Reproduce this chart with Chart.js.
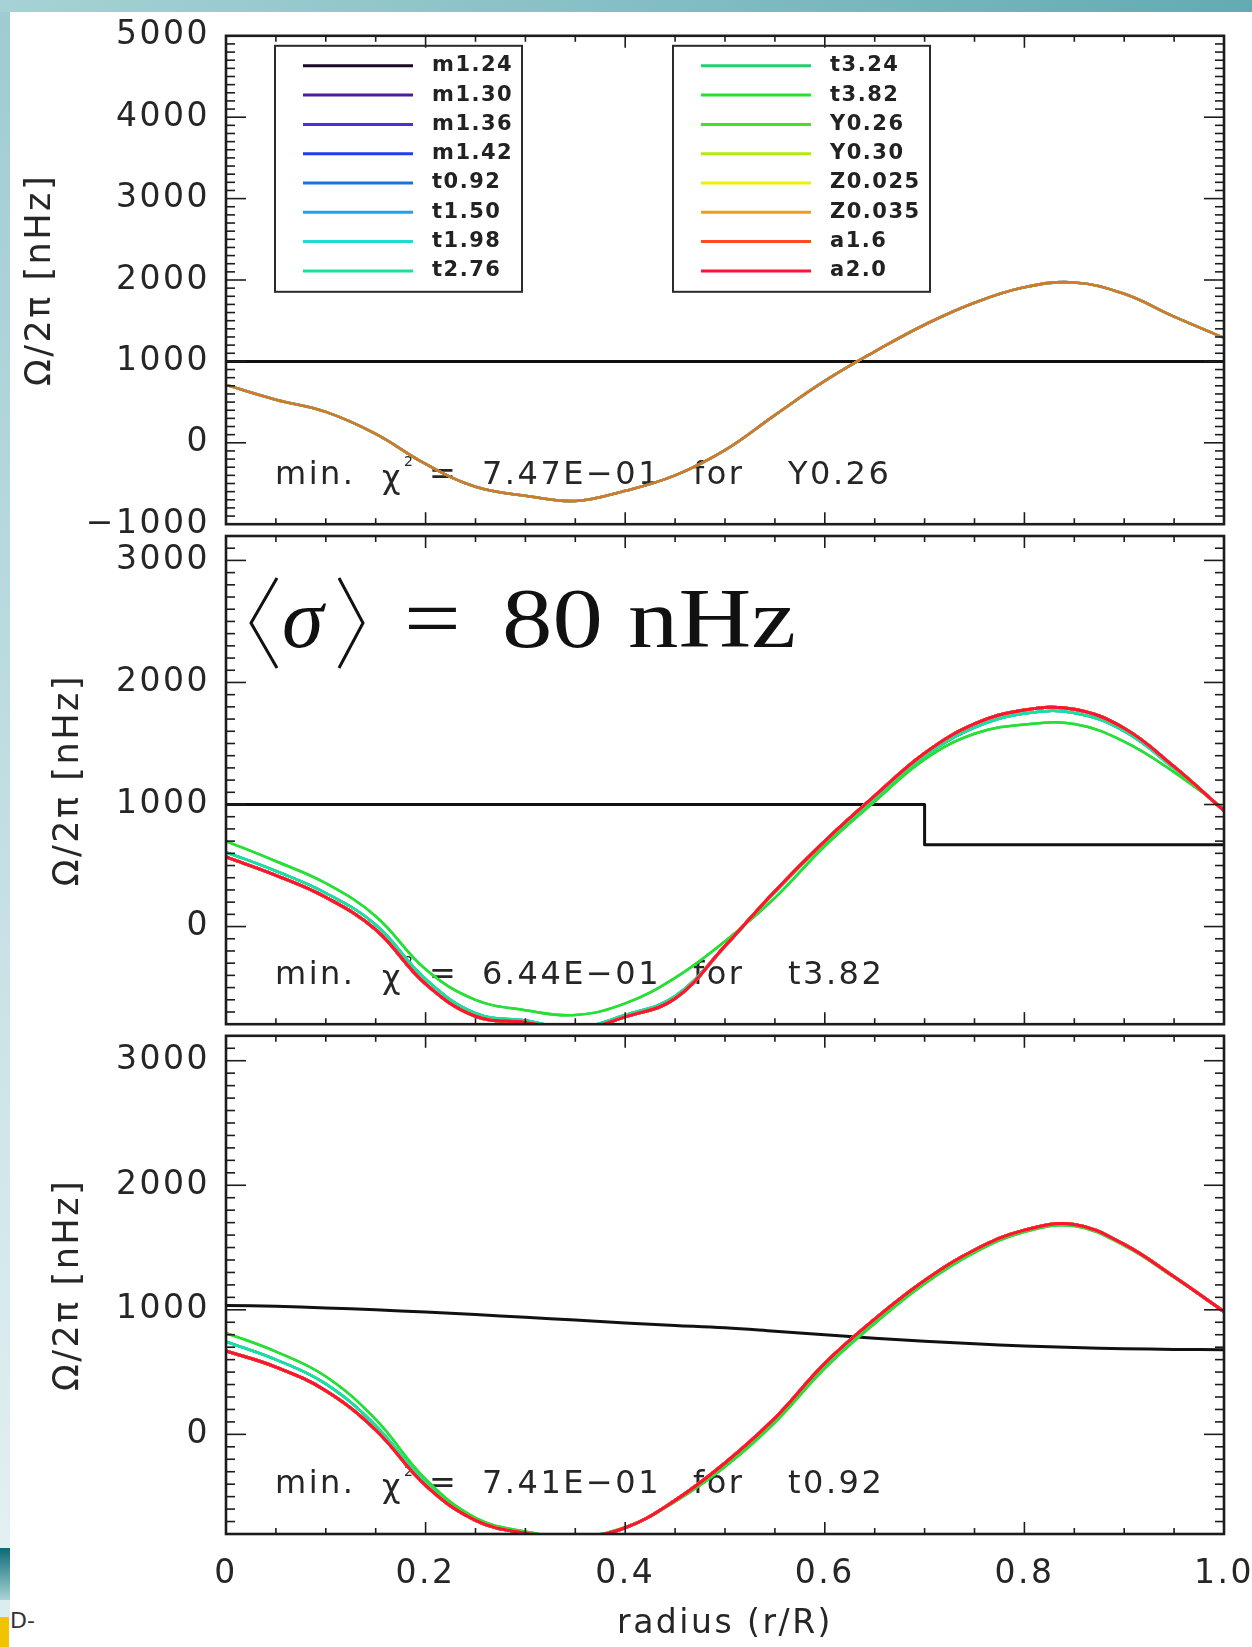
<!DOCTYPE html>
<html>
<head>
<meta charset="utf-8">
<script src="https://cdn.jsdelivr.net/npm/chart.js@4.4.1/dist/chart.umd.min.js"></script>
<style>
  html, body { margin: 0; padding: 0; background: #fff; }
  body { width: 1252px; height: 1647px; position: relative; overflow: hidden; }
  .strip-top { position: absolute; left: 0; top: 0; width: 1252px; height: 12px; background: linear-gradient(to right, #a6d2d5, #63abb3); }
  .strip-left { position: absolute; left: 0; top: 12px; width: 10px; height: 1536px; background: linear-gradient(#9fcbd3, #e2f0f2); }
  .tab-teal { position: absolute; left: 0; top: 1548px; width: 10px; height: 52px; background: linear-gradient(#0b6a74, #a9d3d8); }
  .tab-light { position: absolute; left: 0; top: 1600px; width: 10px; height: 17px; background: #dcedf0; }
  .tab-yellow { position: absolute; left: 0; top: 1617px; width: 9px; height: 30px; background: #f2c400; }
  .tab-text { position: absolute; left: 10px; top: 1608px; font: 22px "DejaVu Sans"; color: #333; }
  canvas { position: absolute; left: 0; }
</style>
</head>
<body>
<div class="strip-top"></div>
<div class="strip-left"></div>
<div class="tab-teal"></div>
<div class="tab-light"></div>
<div class="tab-yellow"></div>
<div class="tab-text">D-</div>
<canvas id="c1" width="1252" height="560" style="top:0"></canvas>
<canvas id="c2" width="1252" height="560" style="top:500px"></canvas>
<canvas id="c3" width="1252" height="647" style="top:1000px"></canvas>
<script>
// radius grid of the inverted profiles
const radius = [0, 0.05, 0.1, 0.15, 0.2, 0.25, 0.3, 0.35, 0.4, 0.45, 0.5, 0.55, 0.6, 0.65, 0.7, 0.75, 0.8, 0.85, 0.9, 0.95, 1.0];

const models = ['m1.24', 'm1.30', 'm1.36', 'm1.42', 't0.92', 't1.50', 't1.98', 't2.76',
                't3.24', 't3.82', 'Y0.26', 'Y0.30', 'Z0.025', 'Z0.035', 'a1.6', 'a2.0'];
const modelColors = ['#1a0a26', '#4b1f99', '#4a2fe0', '#1f3fe6', '#2070d8', '#20a2f0', '#20dcd0', '#18e29a',
                     '#22cf6e', '#28e030', '#46e01e', '#b4ea10', '#f2ee00', '#f39a1a', '#ff4a22', '#ff1438'];
// which of the (nearly identical) inverted curves each model follows in the lower panels
const modelGroup = ['A', 'A', 'A', 'A', 'B', 'B', 'B', 'B', 'C', 'C', 'A', 'A', 'A', 'A', 'A', 'A'];

// top: flat input profile, all models give the same inversion
const flatR = [0, 1];
const flatOmega = [1000, 1000];
const invTop = [710, 530, 380, 110, -260, -540, -650, -715, -590, -400, -90, 340, 760, 1120, 1450, 1720, 1910, 1970, 1830, 1550, 1290];

// middle: step profile
const stepR = [0, 0.7, 1];
const stepOmega = [1000, 670, 670];
const invMidA = [570, 420, 240, -25, -470, -735, -785, -850, -740, -590, -160, 290, 700, 1070, 1420, 1660, 1775, 1780, 1625, 1310, 950];
const invMidB = [610, 455, 275, 15, -430, -710, -770, -830, -725, -570, -160, 280, 690, 1055, 1395, 1630, 1745, 1750, 1600, 1295, 955];
const invMidC = [700, 535, 355, 85, -350, -600, -685, -725, -630, -420, -120, 235, 660, 1025, 1370, 1580, 1655, 1660, 1515, 1265, 965];

// bottom: smooth profile
const smoothOmega = [1035, 1028, 1015, 1000, 982, 962, 940, 918, 895, 875, 855, 828, 800, 772, 748, 727, 710, 697, 688, 682, 680];
const invLowA = [670, 540, 350, 35, -410, -690, -795, -830, -750, -530, -230, 130, 570, 925, 1235, 1480, 1640, 1685, 1525, 1265, 985];
const invLowB = [745, 600, 405, 70, -390, -685, -792, -828, -748, -532, -240, 120, 555, 912, 1225, 1472, 1635, 1680, 1522, 1263, 987];
const invLowC = [815, 665, 465, 120, -360, -670, -780, -820, -745, -540, -260, 95, 530, 890, 1210, 1460, 1625, 1672, 1515, 1260, 990];

const yTicksTop = [-1000, 0, 1000, 2000, 3000, 4000, 5000];
const yTicksLow = [0, 1000, 2000, 3000];
const xTicks = [0, 0.2, 0.4, 0.6, 0.8, 1.0];

const chiValues = ['7.47E\u221201', '6.44E\u221201', '7.41E\u221201'];
const bestModels = ['Y0.26', 't3.82', 't0.92'];

const ink = '#262626';
const idlFont = { family: 'DejaVu Sans', size: 33 };

const pts = (xs, ys) => xs.map((x, i) => ({ x: x, y: ys[i] }));

function rgba(hex, a) {
  const n = parseInt(hex.slice(1), 16);
  return 'rgba(' + (n >> 16) + ',' + ((n >> 8) & 255) + ',' + (n & 255) + ',' + a + ')';
}

function panelSets(refR, refOmega, stepped, curves, alpha) {
  const sets = [{
    data: pts(refR, refOmega), borderColor: '#111', borderWidth: 3,
    stepped: stepped, tension: stepped ? 0 : 0.4, order: 100
  }];
  models.forEach((m, i) => {
    sets.push({
      label: m,
      data: pts(radius, curves[modelGroup[i]]),
      borderColor: alpha ? rgba(modelColors[i], alpha) : modelColors[i],
      borderWidth: alpha ? 2.6 : (modelGroup[i] === 'A' ? 3 : 2.5),
      tension: 0.4,
      order: models.length - i
    });
  });
  return sets;
}

// IDL-like wide text
const spacing = {
  id: 'spacing',
  beforeLayout(chart) { chart.ctx.letterSpacing = '2.5px'; },
  beforeDraw(chart) { chart.ctx.letterSpacing = '2.5px'; }
};

// box + inward major/minor ticks on all four sides
const frame = {
  id: 'frame',
  afterDatasetsDraw(chart) {
    const { ctx, chartArea: a, scales: { x, y } } = chart;
    const seg = (x1, y1, x2, y2) => { ctx.beginPath(); ctx.moveTo(x1, y1); ctx.lineTo(x2, y2); ctx.stroke(); };
    ctx.save();
    ctx.strokeStyle = '#1c1c1c';
    ctx.lineWidth = 1.6;
    for (let v = Math.ceil(y.min / 100) * 100; v <= y.max; v += 100) {
      const py = y.getPixelForValue(v);
      const len = v % 1000 === 0 ? 20 : 9;
      seg(a.left, py, a.left + len, py);
      seg(a.right, py, a.right - len, py);
    }
    for (let i = 0; i <= 20; i++) {
      const px = x.getPixelForValue(i / 20);
      const len = i % 4 === 0 ? 12 : 6;
      seg(px, a.top, px, a.top + len);
      seg(px, a.bottom, px, a.bottom - len);
    }
    ctx.lineWidth = 2.6;
    ctx.strokeRect(a.left, a.top, a.width, a.height);
    ctx.restore();
  }
};

// "min. chi^2 = ... for ..." line
const note = {
  id: 'note',
  beforeDatasetsDraw(chart, args, o) {
    const { ctx, chartArea: a } = chart;
    const y = a.bottom - 49;
    ctx.save();
    ctx.fillStyle = ink;
    ctx.letterSpacing = '2.5px';
    ctx.textBaseline = 'middle';
    ctx.font = '32px "DejaVu Sans"';
    ctx.fillText('min.', a.left + 49, y);
    ctx.fillText('\u03c7', a.left + 156, y + 4);
    ctx.fillText('=', a.left + 203, y);
    ctx.fillText(o.chi, a.left + 256, y);
    ctx.fillText('for', a.left + 467, y);
    ctx.fillText(o.model, a.left + 562, y);
    ctx.font = '14px "DejaVu Sans"';
    ctx.letterSpacing = '0px';
    ctx.fillText('2', a.left + 178, y - 13);
    ctx.restore();
  }
};

// the two legend boxes of the top panel
const key = {
  id: 'key',
  afterDraw(chart, args, o) {
    if (!o.show) return;
    const { ctx, chartArea: a } = chart;
    const boxes = [{ x: a.left + 49, w: 247, from: 0 }, { x: a.left + 447, w: 257, from: 8 }];
    ctx.save();
    ctx.textBaseline = 'middle';
    ctx.font = 'bold 21px "DejaVu Sans"';
    ctx.letterSpacing = '1.5px';
    boxes.forEach(b => {
      ctx.strokeStyle = '#2a2a2a';
      ctx.lineWidth = 2;
      ctx.strokeRect(b.x, a.top + 10, b.w, 246);
      for (let k = 0; k < 8; k++) {
        const i = b.from + k;
        const yy = a.top + 30 + k * 29.3;
        ctx.strokeStyle = modelColors[i];
        ctx.lineWidth = 3;
        ctx.beginPath(); ctx.moveTo(b.x + 28, yy); ctx.lineTo(b.x + 138, yy); ctx.stroke();
        ctx.fillStyle = '#222';
        ctx.fillText(models[i], b.x + 157, yy);
      }
    });
    ctx.restore();
  }
};

// <sigma> = 80 nHz label in the middle panel
const sigma = {
  id: 'sigma',
  afterDraw(chart, args, o) {
    if (!o.show) return;
    const { ctx, chartArea: a } = chart;
    const base = a.top + 111;
    ctx.save();
    ctx.fillStyle = '#111';
    ctx.strokeStyle = '#111';
    ctx.lineWidth = 3;
    ctx.letterSpacing = '0px';
    ctx.beginPath();
    ctx.moveTo(a.left + 51, a.top + 42); ctx.lineTo(a.left + 25, a.top + 87); ctx.lineTo(a.left + 51, a.top + 132);
    ctx.moveTo(a.left + 113, a.top + 42); ctx.lineTo(a.left + 137, a.top + 87); ctx.lineTo(a.left + 113, a.top + 132);
    ctx.stroke();
    ctx.font = 'italic 84px "Liberation Serif"';
    ctx.fillText('\u03c3', a.left + 56, base);
    ctx.font = '84px "Liberation Serif"';
    [['=', 178], ['80', 276], ['nHz', 402]].forEach(p => {
      ctx.save();
      ctx.translate(a.left + p[1], base);
      ctx.scale(1.2, 1);
      ctx.fillText(p[0], 0, 0);
      ctx.restore();
    });
    ctx.restore();
  }
};

function options(cfg) {
  return {
    responsive: false,
    animation: false,
    events: [],
    layout: { padding: { top: cfg.padTop, bottom: cfg.padBottom, left: 0, right: 28 } },
    elements: { point: { radius: 0 }, line: { borderCapStyle: 'round', borderJoinStyle: 'round' } },
    scales: {
      x: {
        type: 'linear', min: 0, max: 1,
        display: cfg.showX,
        grid: { display: false, drawTicks: false },
        border: { display: false },
        afterBuildTicks: s => { s.ticks = xTicks.map(v => ({ value: v })); },
        afterFit: cfg.showX ? s => { s.height = 113; s.paddingLeft = 0; s.paddingRight = 0; } : undefined,
        ticks: {
          padding: 21, font: idlFont, color: ink, maxRotation: 0, autoSkip: false,
          callback: v => v === 0 ? '0' : v.toFixed(1)
        },
        title: { display: true, text: 'radius (r/R)', font: idlFont, color: ink, padding: { top: 0, bottom: 3 } }
      },
      y: {
        type: 'linear', min: cfg.yMin, max: cfg.yMax,
        grid: { display: false, drawTicks: false },
        border: { display: false },
        afterBuildTicks: s => { s.ticks = cfg.yTicks.map(v => ({ value: v })); },
        afterFit: s => { s.width = 226; },
        ticks: {
          padding: 16, font: idlFont, color: ink, autoSkip: false,
          callback: v => v < 0 ? '\u2212' + (-v) : String(v)
        },
        title: {
          display: true, text: '\u03a9/2\u03c0 [nHz]', font: { family: 'DejaVu Sans', size: 35 }, color: ink,
          padding: { top: cfg.titlePad, bottom: 0 }
        }
      }
    },
    plugins: {
      legend: { display: false },
      tooltip: { enabled: false },
      note: { chi: cfg.chi, model: cfg.model },
      key: { show: cfg.key },
      sigma: { show: cfg.sigma }
    }
  };
}

const plugins = [spacing, frame, note, key, sigma];

new Chart(document.getElementById('c1'), {
  type: 'line',
  data: { datasets: panelSets(flatR, flatOmega, false, { A: invTop, B: invTop, C: invTop }, 0.3) },
  options: options({ padTop: 35, padBottom: 24, showX: false, yMin: -1000, yMax: 5000, yTicks: yTicksTop,
                     titlePad: 20, chi: chiValues[0], model: bestModels[0], key: true, sigma: false }),
  plugins: plugins
});

new Chart(document.getElementById('c2'), {
  type: 'line',
  data: { datasets: panelSets(stepR, stepOmega, true, { A: invMidA, B: invMidB, C: invMidC }, 0) },
  options: options({ padTop: 36, padBottom: 25, showX: false, yMin: -800, yMax: 3200, yTicks: yTicksLow,
                     titlePad: 48, chi: chiValues[1], model: bestModels[1], key: false, sigma: true }),
  plugins: plugins
});

new Chart(document.getElementById('c3'), {
  type: 'line',
  data: { datasets: panelSets(radius, smoothOmega, false, { A: invLowA, B: invLowB, C: invLowC }, 0) },
  options: options({ padTop: 35, padBottom: 0, showX: true, yMin: -800, yMax: 3200, yTicks: yTicksLow,
                     titlePad: 48, chi: chiValues[2], model: bestModels[2], key: false, sigma: false }),
  plugins: plugins
});
</script>
</body>
</html>
